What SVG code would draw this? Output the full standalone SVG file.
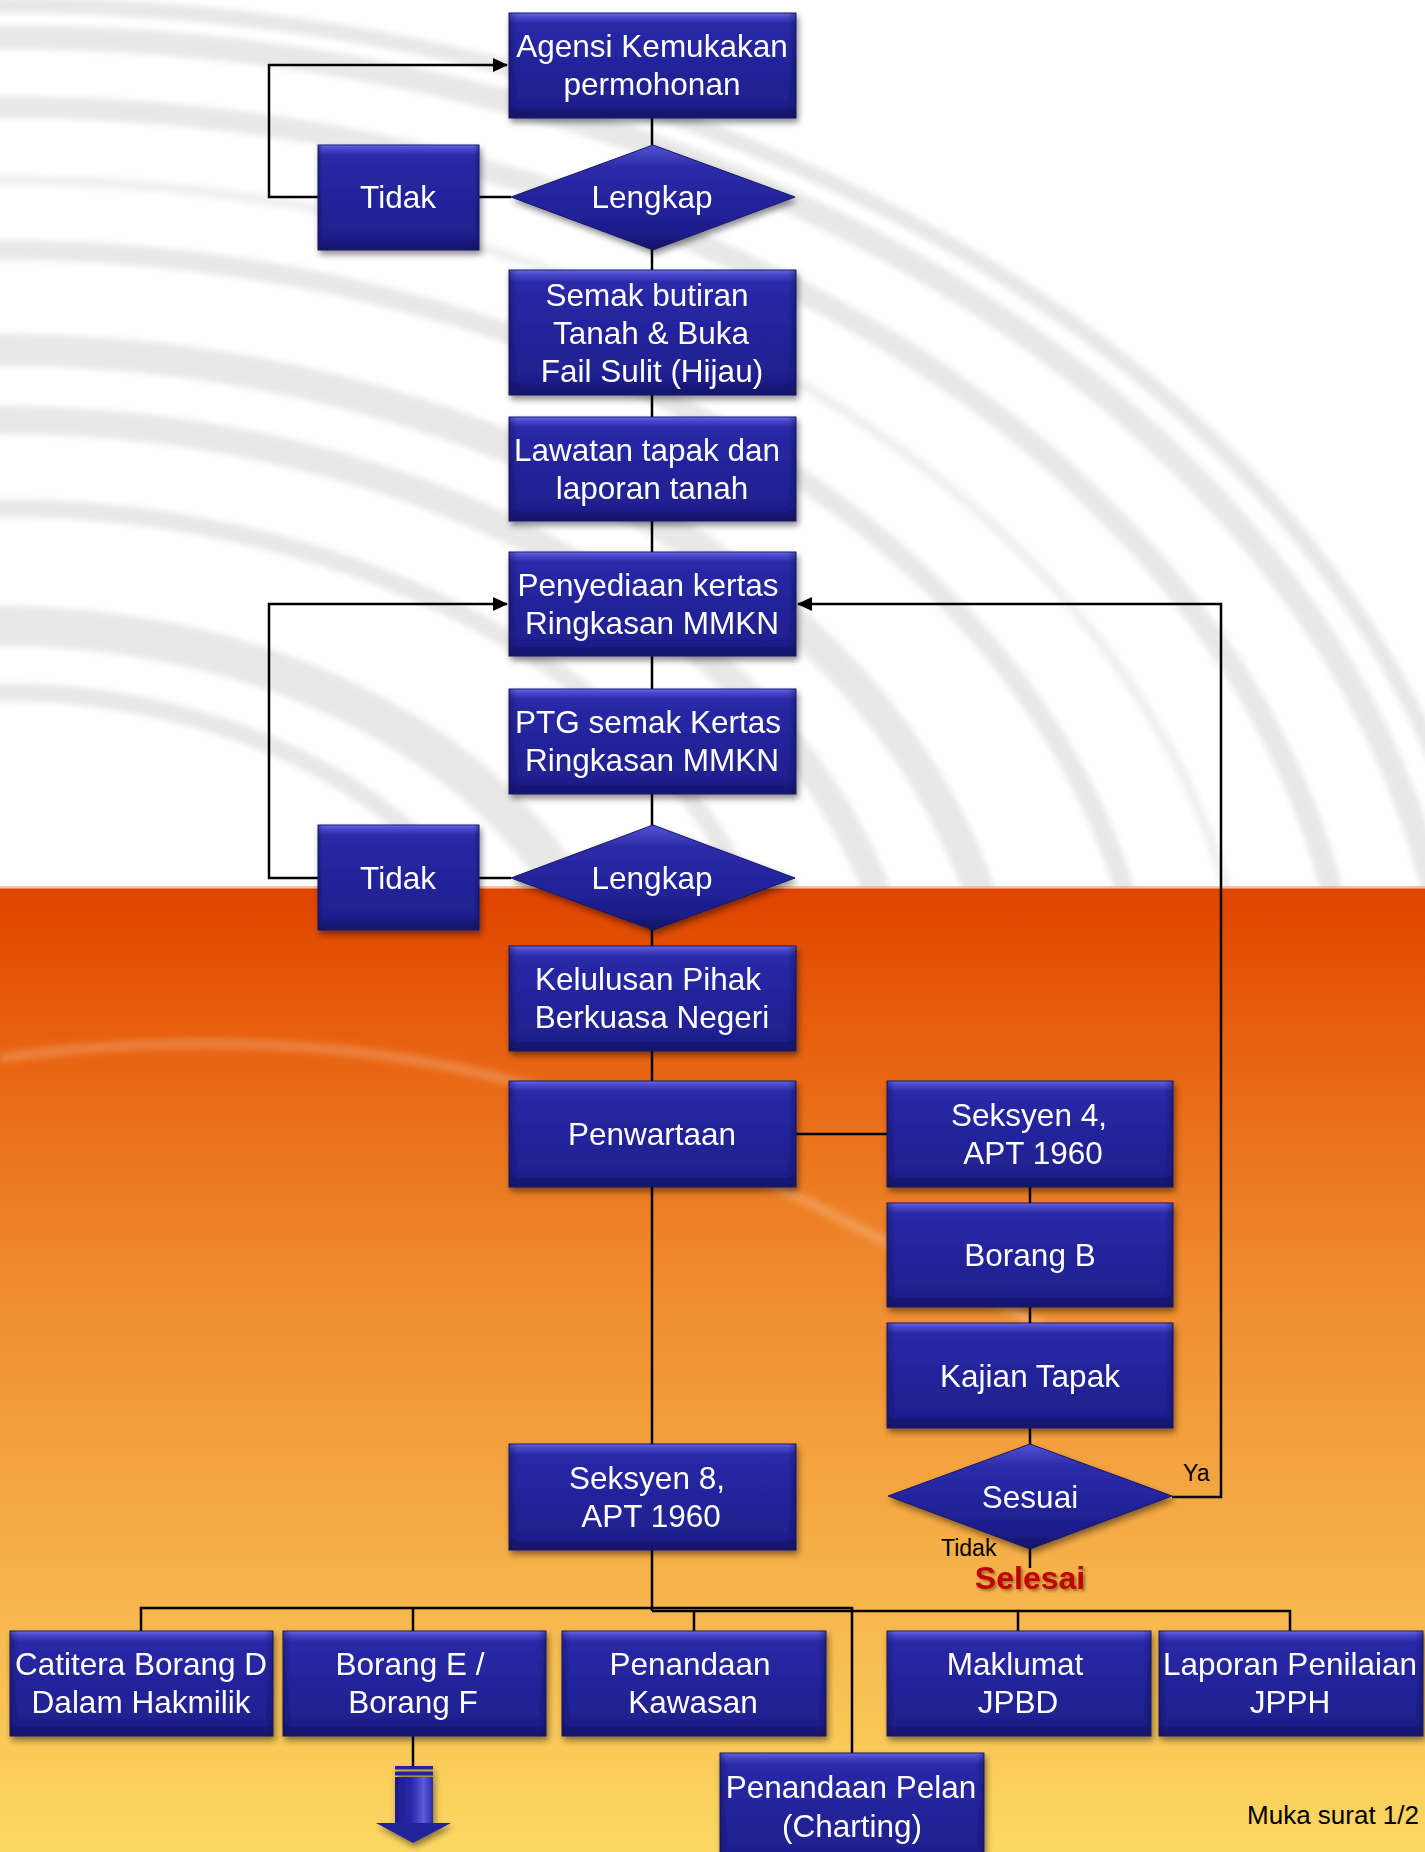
<svg xmlns="http://www.w3.org/2000/svg" width="1425" height="1852" viewBox="0 0 1425 1852">
<defs>
  <linearGradient id="gOrange" x1="0" y1="0" x2="0" y2="1">
    <stop offset="0" stop-color="#e04300"/>
    <stop offset="0.12" stop-color="#e65a0a"/>
    <stop offset="0.4" stop-color="#ef8a2c"/>
    <stop offset="0.7" stop-color="#f6b048"/>
    <stop offset="1" stop-color="#fcd862"/>
  </linearGradient>
  <linearGradient id="gBox" x1="0" y1="0" x2="0" y2="1">
    <stop offset="0" stop-color="#6a6ae6"/>
    <stop offset="0.03" stop-color="#4c4cd0"/>
    <stop offset="0.1" stop-color="#2a2aa8"/>
    <stop offset="0.5" stop-color="#23239b"/>
    <stop offset="0.88" stop-color="#1f1f8e"/>
    <stop offset="0.92" stop-color="#18187a"/>
    <stop offset="1" stop-color="#141466"/>
  </linearGradient>
  <linearGradient id="gEdge" x1="0" y1="0" x2="1" y2="0">
    <stop offset="0" stop-color="#0a0a40" stop-opacity="0.35"/>
    <stop offset="0.03" stop-color="#0a0a40" stop-opacity="0"/>
    <stop offset="0.97" stop-color="#0a0a40" stop-opacity="0"/>
    <stop offset="1" stop-color="#0a0a40" stop-opacity="0.35"/>
  </linearGradient>
  <linearGradient id="gDia" x1="0" y1="0" x2="0" y2="1">
    <stop offset="0" stop-color="#5252d4"/>
    <stop offset="0.2" stop-color="#2c2cab"/>
    <stop offset="0.55" stop-color="#23239b"/>
    <stop offset="0.85" stop-color="#1d1d8a"/>
    <stop offset="1" stop-color="#121260"/>
  </linearGradient>
  <linearGradient id="gShaft" x1="0" y1="0" x2="1" y2="0">
    <stop offset="0" stop-color="#1c1c8c"/>
    <stop offset="0.45" stop-color="#2a2aaa"/>
    <stop offset="0.75" stop-color="#5c5cd8"/>
    <stop offset="1" stop-color="#2a2aa6"/>
  </linearGradient>
  <clipPath id="clipTop"><rect x="0" y="0" width="1425" height="888"/></clipPath>
  <clipPath id="clipBot"><rect x="0" y="888" width="1425" height="964"/></clipPath>
  <filter id="shadow" x="-10%" y="-10%" width="130%" height="140%">
    <feDropShadow dx="2" dy="4" stdDeviation="3" flood-color="#000" flood-opacity="0.45"/>
  </filter>
  <filter id="tshadow" x="-10%" y="-20%" width="130%" height="160%">
    <feDropShadow dx="2" dy="2" stdDeviation="1.5" flood-color="#000" flood-opacity="0.4"/>
  </filter>
  <filter id="soft"><feGaussianBlur stdDeviation="4"/></filter>
  <filter id="soft2"><feGaussianBlur stdDeviation="3"/></filter>
  <marker id="arr" markerUnits="userSpaceOnUse" viewBox="0 0 15 14" refX="14" refY="7" markerWidth="15" markerHeight="14" orient="auto">
    <path d="M0,0 L15,7 L0,14 z" fill="#000"/>
  </marker>
  <style>
    .b { fill: url(#gBox); stroke: #1a1a6e; stroke-width: 1; }
    .e { fill: url(#gEdge); }
    .d { fill: url(#gDia); stroke: #16166a; stroke-width: 1; }
    .node { filter: url(#shadow); }
    .t { font-family: "Liberation Sans", Arial, sans-serif; font-size: 31.5px; fill: #ffffff; text-anchor: middle; }
    .lbl { font-family: "Liberation Sans", Arial, sans-serif; font-size: 23px; fill: #000000; }
    .c { fill: none; stroke: #000; stroke-width: 2.5; }
    .arc { fill: none; stroke: #e8e8e8; }
  </style>
</defs>

<!-- background -->
<rect x="0" y="0" width="1425" height="888" fill="#ffffff"/>
<g clip-path="url(#clipTop)" filter="url(#soft2)">
  <ellipse class="arc" cx="0" cy="1060" rx="1498" ry="1055" stroke-width="16"/>
  <ellipse class="arc" cx="0" cy="1060" rx="1453" ry="1023" stroke-width="24"/>
  <ellipse class="arc" cx="0" cy="1060" rx="1353" ry="953" stroke-width="22"/>
  <ellipse class="arc" cx="0" cy="1060" rx="1250" ry="880" stroke-width="10" opacity="0.7"/>
  <ellipse class="arc" cx="0" cy="1060" rx="1150" ry="810" stroke-width="20"/>
  <ellipse class="arc" cx="0" cy="1060" rx="1008" ry="710" stroke-width="32"/>
  <ellipse class="arc" cx="0" cy="1060" rx="909" ry="640" stroke-width="28"/>
  <ellipse class="arc" cx="0" cy="1060" rx="784" ry="552" stroke-width="18"/>
  <ellipse class="arc" cx="0" cy="1060" rx="616" ry="434" stroke-width="40"/>
  <ellipse class="arc" cx="0" cy="1060" rx="523" ry="368" stroke-width="18"/>
</g>
<rect x="0" y="888" width="1425" height="964" fill="url(#gOrange)"/>
<g clip-path="url(#clipBot)" filter="url(#soft)">
  <path d="M0,1058 C200,1030 420,1040 600,1110 S900,1250 1050,1330" fill="none" stroke="#ffffff" stroke-width="7" opacity="0.3"/>
</g>
<rect x="0" y="886" width="1425" height="3" fill="#f3a878" opacity="0.7"/>

<!-- connectors -->
<g id="connectors">
  <path class="c" d="M318,197 H269 V65 H507" marker-end="url(#arr)"/>
  <path class="c" d="M479,197 H511"/>
  <path class="c" d="M652,118 V145"/>
  <path class="c" d="M652,250 V270"/>
  <path class="c" d="M652,395 V417"/>
  <path class="c" d="M652,521 V552"/>
  <path class="c" d="M652,656 V689"/>
  <path class="c" d="M652,794 V825"/>
  <path class="c" d="M318,878 H269 V604 H507" marker-end="url(#arr)"/>
  <path class="c" d="M479,878 H511"/>
  <path class="c" d="M652,930 V946"/>
  <path class="c" d="M652,1051 V1081"/>
  <path class="c" d="M796,1134 H887"/>
  <path class="c" d="M1030,1187 V1203"/>
  <path class="c" d="M1030,1307 V1323"/>
  <path class="c" d="M1030,1428 V1444"/>
  <path class="c" d="M1172,1497 H1221 V604 H798" marker-end="url(#arr)"/>
  <path class="c" d="M1030,1549 V1568"/>
  <path class="c" d="M652,1187 V1444"/>
  <path class="c" d="M652,1550 V1611"/>
  <path class="c" d="M141,1631 V1608 H852 V1753"/>
  <path class="c" d="M652,1611 H1290 V1631"/>
  <path class="c" d="M413,1608 V1631"/>
  <path class="c" d="M694,1611 V1631"/>
  <path class="c" d="M1018,1611 V1631"/>
  <path class="c" d="M413,1736 V1767"/>
</g>

<!-- nodes -->
<g id="n-agensi" class="node">
  <rect class="b" x="509" y="13" width="287" height="105"/><rect class="e" x="509" y="13" width="287" height="105"/>
  <text class="t" x="652" y="57">Agensi Kemukakan</text><text class="t" x="652" y="95">permohonan</text>
</g>
<g id="n-lengkap1" class="node">
  <polygon class="d" points="511,197 653,145 795,197 653,250"/>
  <text class="t" x="652" y="208">Lengkap</text>
</g>
<g id="n-tidak1" class="node">
  <rect class="b" x="318" y="145" width="161" height="105"/><rect class="e" x="318" y="145" width="161" height="105"/>
  <text class="t" x="398" y="208">Tidak</text>
</g>
<g id="n-semak" class="node">
  <rect class="b" x="509" y="270" width="287" height="125"/><rect class="e" x="509" y="270" width="287" height="125"/>
  <text class="t" x="647" y="306">Semak butiran</text><text class="t" x="651" y="344">Tanah &amp; Buka</text><text class="t" x="652" y="382">Fail Sulit (Hijau)</text>
</g>
<g id="n-lawatan" class="node">
  <rect class="b" x="509" y="417" width="287" height="104"/><rect class="e" x="509" y="417" width="287" height="104"/>
  <text class="t" x="647" y="461">Lawatan tapak dan</text><text class="t" x="652" y="499">laporan tanah</text>
</g>
<g id="n-penyediaan" class="node">
  <rect class="b" x="509" y="552" width="287" height="104"/><rect class="e" x="509" y="552" width="287" height="104"/>
  <text class="t" x="648" y="596">Penyediaan kertas</text><text class="t" x="652" y="634">Ringkasan MMKN</text>
</g>
<g id="n-ptg" class="node">
  <rect class="b" x="509" y="689" width="287" height="105"/><rect class="e" x="509" y="689" width="287" height="105"/>
  <text class="t" x="648" y="733">PTG semak Kertas</text><text class="t" x="652" y="771">Ringkasan MMKN</text>
</g>
<g id="n-lengkap2" class="node">
  <polygon class="d" points="511,878 653,825 795,878 653,930"/>
  <text class="t" x="652" y="889">Lengkap</text>
</g>
<g id="n-tidak2" class="node">
  <rect class="b" x="318" y="825" width="161" height="105"/><rect class="e" x="318" y="825" width="161" height="105"/>
  <text class="t" x="398" y="889">Tidak</text>
</g>
<g id="n-kelulusan" class="node">
  <rect class="b" x="509" y="946" width="287" height="105"/><rect class="e" x="509" y="946" width="287" height="105"/>
  <text class="t" x="648" y="990">Kelulusan Pihak</text><text class="t" x="652" y="1028">Berkuasa Negeri</text>
</g>
<g id="n-penwartaan" class="node">
  <rect class="b" x="509" y="1081" width="287" height="106"/><rect class="e" x="509" y="1081" width="287" height="106"/>
  <text class="t" x="652" y="1145">Penwartaan</text>
</g>
<g id="n-seksyen4" class="node">
  <rect class="b" x="887" y="1081" width="286" height="106"/><rect class="e" x="887" y="1081" width="286" height="106"/>
  <text class="t" x="1029" y="1126">Seksyen 4,</text><text class="t" x="1033" y="1164">APT 1960</text>
</g>
<g id="n-borangb" class="node">
  <rect class="b" x="887" y="1203" width="286" height="104"/><rect class="e" x="887" y="1203" width="286" height="104"/>
  <text class="t" x="1030" y="1266">Borang B</text>
</g>
<g id="n-kajian" class="node">
  <rect class="b" x="887" y="1323" width="286" height="105"/><rect class="e" x="887" y="1323" width="286" height="105"/>
  <text class="t" x="1030" y="1387">Kajian Tapak</text>
</g>
<g id="n-sesuai" class="node">
  <polygon class="d" points="888,1496 1030,1444 1172,1496 1030,1549"/>
  <text class="t" x="1030" y="1508">Sesuai</text>
</g>
<g id="n-seksyen8" class="node">
  <rect class="b" x="509" y="1444" width="287" height="106"/><rect class="e" x="509" y="1444" width="287" height="106"/>
  <text class="t" x="647" y="1489">Seksyen 8,</text><text class="t" x="651" y="1527">APT 1960</text>
</g>
<g id="n-catitera" class="node">
  <rect class="b" x="10" y="1631" width="263" height="105"/><rect class="e" x="10" y="1631" width="263" height="105"/>
  <text class="t" x="141" y="1675">Catitera Borang D</text><text class="t" x="141" y="1713">Dalam Hakmilik</text>
</g>
<g id="n-borange" class="node">
  <rect class="b" x="283" y="1631" width="263" height="105"/><rect class="e" x="283" y="1631" width="263" height="105"/>
  <text class="t" x="410" y="1675">Borang E /</text><text class="t" x="413" y="1713">Borang F</text>
</g>
<g id="n-penandaank" class="node">
  <rect class="b" x="562" y="1631" width="264" height="105"/><rect class="e" x="562" y="1631" width="264" height="105"/>
  <text class="t" x="690" y="1675">Penandaan</text><text class="t" x="693" y="1713">Kawasan</text>
</g>
<g id="n-maklumat" class="node">
  <rect class="b" x="887" y="1631" width="264" height="105"/><rect class="e" x="887" y="1631" width="264" height="105"/>
  <text class="t" x="1015" y="1675">Maklumat</text><text class="t" x="1018" y="1713">JPBD</text>
</g>
<g id="n-laporan" class="node">
  <rect class="b" x="1159" y="1631" width="264" height="105"/><rect class="e" x="1159" y="1631" width="264" height="105"/>
  <text class="t" x="1290" y="1675">Laporan Penilaian</text><text class="t" x="1290" y="1713">JPPH</text>
</g>
<g id="n-penandaanp" class="node">
  <rect class="b" x="720" y="1753" width="264" height="112"/><rect class="e" x="720" y="1753" width="264" height="112"/>
  <text class="t" x="851" y="1798">Penandaan Pelan</text><text class="t" x="852" y="1837">(Charting)</text>
</g>

<!-- continuation arrow -->
<g id="arrow-continue" filter="url(#shadow)">
  <rect x="395" y="1766" width="38" height="3.5" fill="#22229a"/>
  <rect x="395" y="1771.5" width="38" height="4" fill="#22229a"/>
  <rect x="395" y="1777" width="38" height="47" fill="url(#gShaft)"/>
  <polygon points="376,1823 451,1823 413,1843" fill="#22229a"/>
</g>

<!-- labels -->
<g id="labels">
  <text class="lbl" x="1183" y="1481">Ya</text>
  <text class="lbl" x="941" y="1556">Tidak</text>
  <text x="1030" y="1589" font-family="'Liberation Sans', Arial, sans-serif" font-size="32" font-weight="bold" fill="#c00000" text-anchor="middle" filter="url(#tshadow)">Selesai</text>
  <text x="1419" y="1824" font-family="'Liberation Sans', Arial, sans-serif" font-size="26" fill="#000" text-anchor="end">Muka surat 1/2</text>
</g>
</svg>
